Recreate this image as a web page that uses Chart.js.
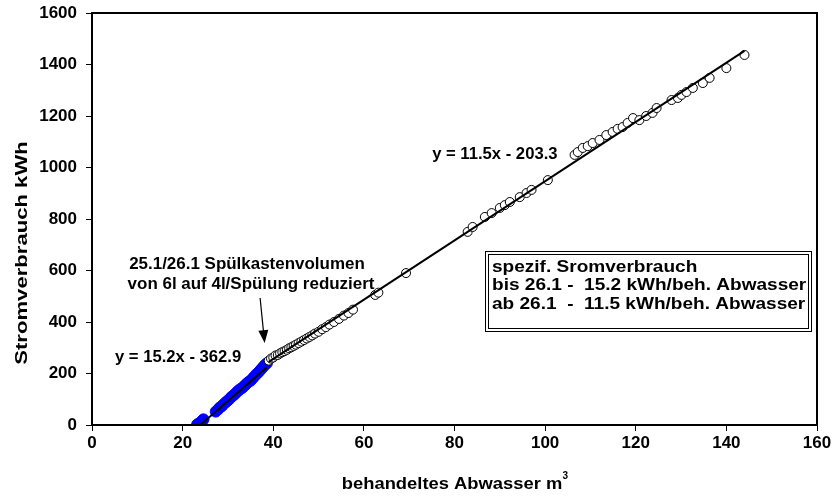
<!DOCTYPE html>
<html>
<head>
<meta charset="utf-8">
<script src="https://cdn.jsdelivr.net/npm/chart.js@4"></script>
<style>
    html, body { margin: 0; padding: 0; background: #fff; }
    #wrap { width: 835px; height: 499px; }
</style>
</head>
<body>
<div id="wrap"><canvas id="chart"></canvas></div>
<script>
// behandeltes Abwasser (m3) / Stromverbrauch (kWh), before 26.1 (blue)
const blueX = [23.2, 23.5, 23.8, 24.1, 24.4, 24.6,
    27.3, 27.8, 28.2, 28.6, 29.0, 29.5, 29.9, 30.3, 30.7, 31.0, 31.4, 31.8, 32.2, 32.6,
    33.0, 33.4, 33.8, 34.2, 34.6, 35.0, 35.4, 35.8, 36.2, 36.6, 37.0, 37.4, 37.8, 38.2, 38.6];
const blueY = [2, 5, 8, 12, 18, 22,
    52, 60, 68, 72, 80, 88, 94, 100, 108, 112, 118, 125, 132, 138,
    142, 148, 155, 162, 168, 172, 180, 188, 196, 202, 210, 218, 226, 234, 240];

// after 26.1 (open circles)
const whiteX = [39.0, 39.5, 40.0, 40.5, 41.0, 41.5, 42.0, 42.5, 43.0, 43.5, 44.0, 44.5, 45.0,
    45.6, 46.2, 46.8, 47.4, 48.0, 48.6, 49.2, 50.0, 50.8, 51.6, 52.4, 53.4, 54.5, 55.6, 56.6, 57.6,
    62.5, 63.2, 69.3,
    82.9, 84.0, 86.7, 88.2, 90.0, 91.1, 92.2, 94.4, 95.9, 97.0, 100.6,
    106.5, 107.2, 108.3, 109.4, 110.5, 112.0, 113.5, 114.9, 116.0, 117.1, 118.2,
    119.4, 120.8, 122.3, 123.7, 124.6, 127.9, 129.3, 130.1, 131.2, 132.6, 134.8, 136.3, 140.0, 144.0];
const whiteY = [250, 258, 262, 270, 272, 278, 283, 287, 292, 298, 302, 307, 312,
    318, 324, 330, 336, 342, 348, 355, 362, 372, 380, 390, 400, 412, 425, 435, 448,
    505, 514, 590,
    750, 769, 808, 823, 843, 854, 866, 885, 901, 913, 951,
    1049, 1060, 1076, 1083, 1095, 1107, 1126, 1138, 1150, 1157, 1173,
    1192, 1184, 1200, 1212, 1231, 1262, 1270, 1282, 1293, 1309, 1328, 1348, 1386, 1437];

// trend lines as printed on the chart
const fit1 = { slope: 15.2, intercept: -362.9, from: 23.9, to: 38.6 };
const fit2 = { slope: 11.5, intercept: -203.3, from: 39.0, to: 144.0 };

const xTicks = [0, 20, 40, 60, 80, 100, 120, 140, 160];
const yTicks = [0, 200, 400, 600, 800, 1000, 1200, 1400, 1600];

const boxLines = ['spezif. Sromverbrauch', 'bis 26.1 -  15.2 kWh/beh. Abwasser', 'ab 26.1  -  11.5 kWh/beh. Abwasser'];

function toPoints(xs, ys) {
    return xs.map((x, i) => ({ x: x, y: ys[i] }));
}

function fitLine(f) {
    return [f.from, f.to].map(x => ({ x: x, y: f.slope * x + f.intercept }));
}

const FAM = '"Liberation Sans", Arial, sans-serif';
const font = size => 'bold ' + size + 'px ' + FAM;

// draws text stretched horizontally by sx
function stretchText(ctx, text, x, y, sx) {
    ctx.save();
    ctx.translate(x, y);
    ctx.scale(sx, 1);
    ctx.fillText(text, 0, 0);
    ctx.restore();
}

// frame, axis titles and annotations
const extras = {
    id: 'extras',
    afterDraw(chart) {
        const ctx = chart.ctx;
        const a = chart.chartArea;
        const xs = chart.scales.x, ys = chart.scales.y;
        ctx.save();
        ctx.strokeStyle = '#000';
        ctx.lineWidth = 2;
        ctx.strokeRect(a.left, a.top, a.right - a.left, a.bottom - a.top);

        ctx.fillStyle = '#000';
        ctx.textAlign = 'center';
        ctx.textBaseline = 'middle';

        // x title with superscript
        ctx.font = font(17);
        const xt = 'behandeltes Abwasser m';
        const w = ctx.measureText(xt).width * 1.08;
        const cx = 452, cy = 484;
        stretchText(ctx, xt, cx, cy, 1.08);
        ctx.font = font(10);
        ctx.fillText('3', cx + w / 2 + 3, cy - 8);

        // y title
        ctx.font = font(17);
        ctx.save();
        ctx.translate(22, 253);
        ctx.rotate(-Math.PI / 2);
        stretchText(ctx, 'Stromverbrauch kWh', 0, 0, 1.3);
        ctx.restore();

        // equations
        ctx.font = font(16);
        stretchText(ctx, 'y = 11.5x - 203.3', xs.getPixelForValue(88.9), ys.getPixelForValue(1049), 1.04);
        stretchText(ctx, 'y = 15.2x - 362.9', xs.getPixelForValue(19.0), ys.getPixelForValue(260), 1.04);
        stretchText(ctx, '25.1/26.1 Spülkastenvolumen', xs.getPixelForValue(34.2), ys.getPixelForValue(621), 1.06);
        stretchText(ctx, 'von 6l auf 4l/Spülung reduziert', xs.getPixelForValue(35.1), ys.getPixelForValue(544), 1.06);

        // arrow
        const x1 = xs.getPixelForValue(37.1), y1 = ys.getPixelForValue(493);
        const x2 = xs.getPixelForValue(38.1), y2 = ys.getPixelForValue(318);
        const ang = Math.atan2(y2 - y1, x2 - x1);
        ctx.lineWidth = 1.2;
        ctx.beginPath();
        ctx.moveTo(x1, y1);
        ctx.lineTo(x2 - 10 * Math.cos(ang), y2 - 10 * Math.sin(ang));
        ctx.stroke();
        ctx.beginPath();
        ctx.moveTo(x2, y2);
        ctx.lineTo(x2 - 13 * Math.cos(ang) + 5 * Math.sin(ang), y2 - 13 * Math.sin(ang) - 5 * Math.cos(ang));
        ctx.lineTo(x2 - 13 * Math.cos(ang) - 5 * Math.sin(ang), y2 - 13 * Math.sin(ang) + 5 * Math.cos(ang));
        ctx.closePath();
        ctx.fill();

        // text box with double border
        const bx = 485, by = 251, bw = 327, bh = 81;
        ctx.fillStyle = '#fff';
        ctx.fillRect(bx, by, bw, bh);
        ctx.strokeStyle = '#000';
        ctx.lineWidth = 1;
        ctx.strokeRect(bx + 0.5, by + 0.5, bw - 1, bh - 1);
        ctx.strokeRect(bx + 3.5, by + 3.5, bw - 7, bh - 7);
        ctx.fillStyle = '#000';
        ctx.textAlign = 'left';
        ctx.font = font(17);
        boxLines.forEach((t, i) => stretchText(ctx, t, bx + 7, by + 16 + i * 18.5, 1.12));
        ctx.restore();
    }
};

const tickFont = { family: FAM, size: 17, weight: 'bold' };

new Chart(document.getElementById('chart'), {
    type: 'scatter',
    data: {
        datasets: [
            { label: 'fit1', type: 'line', data: fitLine(fit1), borderColor: '#000', borderWidth: 2, pointRadius: 0, order: 0 },
            { label: 'fit2', type: 'line', data: fitLine(fit2), borderColor: '#000', borderWidth: 2, pointRadius: 0, order: 0 },
            { label: 'bis 26.1', data: toPoints(blueX, blueY), backgroundColor: '#0000ff', borderColor: '#0000ff', pointRadius: 5.5, borderWidth: 1, order: 2 },
            { label: 'ab 26.1', data: toPoints(whiteX, whiteY), backgroundColor: '#fff', borderColor: '#000', pointRadius: 4.5, borderWidth: 1, order: 1 }
        ]
    },
    options: {
        responsive: true,
        maintainAspectRatio: false,
        animation: false,
        events: [],
        layout: { padding: { top: 13, right: 18, left: 0, bottom: 0 } },
        plugins: { legend: { display: false }, tooltip: { enabled: false } },
        scales: {
            x: {
                type: 'linear', min: 0, max: 160,
                afterFit: s => { s.height = 74; s.paddingLeft = 0; s.paddingRight = 0; },
                afterBuildTicks: s => { s.ticks = xTicks.map(v => ({ value: v })); },
                border: { color: '#000', width: 2 },
                grid: { drawOnChartArea: false, color: '#000', tickLength: 6, lineWidth: 1 },
                ticks: { color: '#000', font: tickFont, padding: 2, maxRotation: 0, callback: v => String(v) }
            },
            y: {
                type: 'linear', min: 0, max: 1600,
                afterFit: s => { s.width = 92; s.paddingTop = 0; s.paddingBottom = 0; },
                afterBuildTicks: s => { s.ticks = yTicks.map(v => ({ value: v })); },
                border: { color: '#000', width: 2 },
                grid: { drawOnChartArea: false, color: '#000', tickLength: 6, lineWidth: 1 },
                ticks: { color: '#000', font: tickFont, padding: 9, callback: v => String(v) }
            }
        }
    },
    plugins: [extras]
});
</script>
</body>
</html>
